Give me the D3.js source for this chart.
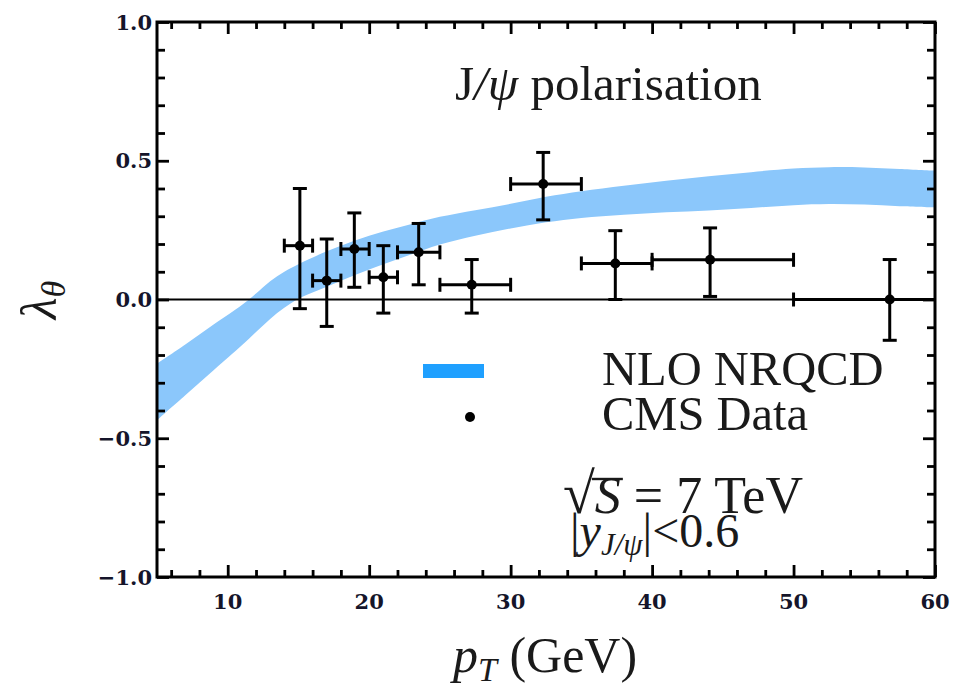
<!DOCTYPE html>
<html lang="en">
<head>
<meta charset="UTF-8">
<title>J/psi polarisation</title>
<style>
  body { margin: 0; background: #fff; }
  svg { display: block; }
  .tick-label { font-family: "DejaVu Serif", serif; font-weight: bold; font-size: 21px; fill: #15152a; }
  .serif { font-family: "Liberation Serif", "Times New Roman", serif; fill: #1a1a1a; }
</style>
</head>
<body>
<svg id="chart" width="954" height="687"></svg>
<script src="https://d3js.org/d3.v7.min.js"></script>
<script>
// CMS data points (|y| < 0.6)
const ptMean = [15.1, 17.0, 18.95, 21.0, 23.5, 27.25, 32.3, 37.4, 44.1, 56.8];
const ptLow = [14, 16, 18, 20, 22, 25, 30, 35, 40, 50];
const ptHigh = [16, 18, 20, 22, 25, 30, 35, 40, 50, 70];
const lambda = [0.194, 0.068, 0.182, 0.080, 0.170, 0.053, 0.416, 0.130, 0.143, 0.000];
const lambdaLow = [-0.033, -0.097, 0.044, -0.049, 0.053, -0.049, 0.287, 0.000, 0.011, -0.147];
const lambdaHigh = [0.400, 0.218, 0.312, 0.194, 0.274, 0.144, 0.530, 0.248, 0.258, 0.144];

// NLO NRQCD band edges
const bandPt = [5, 7, 9, 11, 12, 13, 14, 15, 17, 19, 21, 23, 25, 27.5, 30, 32.5, 35, 38, 41, 44, 47, 50, 52.5, 55, 57.5, 60];
const bandHigh = [-0.231, -0.162, -0.09, -0.02, 0.022, 0.066, 0.1, 0.127, 0.174, 0.213, 0.245, 0.272, 0.298, 0.322, 0.345, 0.37, 0.39, 0.41, 0.428, 0.444, 0.459, 0.472, 0.477, 0.476, 0.47, 0.464];
const bandLow = [-0.435, -0.345, -0.255, -0.165, -0.117, -0.07, -0.03, 0.003, 0.046, 0.088, 0.127, 0.163, 0.198, 0.23, 0.256, 0.278, 0.294, 0.305, 0.314, 0.321, 0.33, 0.34, 0.344, 0.342, 0.336, 0.332];

// axis ticks
const xMajor = [10, 20, 30, 40, 50, 60];
const xMinor = [6, 8, 12, 14, 16, 18, 22, 24, 26, 28, 32, 34, 36, 38, 42, 44, 46, 48, 52, 54, 56, 58];
const yMajor = [-1, -0.5, 0, 0.5, 1];
const yMajorLabels = ["\u22121.0", "\u22120.5", "0.0", "0.5", "1.0"];
const yMinor = [-0.9, -0.8, -0.7, -0.6, -0.4, -0.3, -0.2, -0.1, 0.1, 0.2, 0.3, 0.4, 0.6, 0.7, 0.8, 0.9];

const svg = d3.select('#chart');
const plotLeft = 157, plotRight = 935, plotTop = 22, plotBottom = 577;

const x = d3.scaleLinear().domain([5, 60]).range([plotLeft, plotRight]);
const y = d3.scaleLinear().domain([-1, 1]).range([plotBottom, plotTop]);

svg.append('rect').attr('width', 954).attr('height', 687).attr('fill', '#fff');

svg.append('clipPath').attr('id', 'plot-clip')
    .append('rect')
    .attr('x', plotLeft).attr('y', plotTop)
    .attr('width', plotRight - plotLeft).attr('height', plotBottom - plotTop);

const plot = svg.append('g').attr('clip-path', 'url(#plot-clip)');

// theory band
const bandData = bandPt.map((p, i) => ({ p, lo: bandLow[i], hi: bandHigh[i] }));
const area = d3.area()
    .x(d => x(d.p))
    .y0(d => y(d.lo))
    .y1(d => y(d.hi))
    .curve(d3.curveCatmullRom.alpha(0.5));

plot.append('path')
    .datum(bandData)
    .attr('d', area)
    .attr('fill', '#8bc7fb');

// zero line
plot.append('line')
    .attr('x1', plotLeft).attr('x2', plotRight)
    .attr('y1', y(0)).attr('y2', y(0))
    .attr('stroke', '#000')
    .attr('stroke-width', 2.2);

// data with error bars
const points = ptMean.map((p, i) => ({
    p, xlo: ptLow[i], xhi: ptHigh[i],
    v: lambda[i], lo: lambdaLow[i], hi: lambdaHigh[i]
}));

const cap = 7;
const bars = plot.append('g')
    .attr('stroke', '#000')
    .attr('stroke-width', 3)
    .selectAll('g')
    .data(points)
    .enter().append('g');

bars.append('line')
    .attr('x1', d => x(d.p)).attr('x2', d => x(d.p))
    .attr('y1', d => y(d.lo)).attr('y2', d => y(d.hi));
bars.append('line')
    .attr('x1', d => x(d.p) - cap).attr('x2', d => x(d.p) + cap)
    .attr('y1', d => y(d.lo)).attr('y2', d => y(d.lo));
bars.append('line')
    .attr('x1', d => x(d.p) - cap).attr('x2', d => x(d.p) + cap)
    .attr('y1', d => y(d.hi)).attr('y2', d => y(d.hi));
bars.append('line')
    .attr('x1', d => x(d.xlo)).attr('x2', d => x(d.xhi))
    .attr('y1', d => y(d.v)).attr('y2', d => y(d.v));
bars.append('line')
    .attr('x1', d => x(d.xlo)).attr('x2', d => x(d.xlo))
    .attr('y1', d => y(d.v) - cap).attr('y2', d => y(d.v) + cap);
bars.append('line')
    .attr('x1', d => x(d.xhi)).attr('x2', d => x(d.xhi))
    .attr('y1', d => y(d.v) - cap).attr('y2', d => y(d.v) + cap);
bars.append('circle')
    .attr('cx', d => x(d.p)).attr('cy', d => y(d.v))
    .attr('r', 5)
    .attr('fill', '#000')
    .attr('stroke', 'none');

// frame and ticks on all four sides (pointing inwards)
function tickAxis(axisFn, scale, values, size, transform) {
    const g = svg.append('g')
        .attr('transform', transform)
        .call(axisFn(scale).tickValues(values).tickSize(-size).tickFormat(''));
    g.select('.domain').remove();
    g.selectAll('line').attr('stroke', '#000').attr('stroke-width', 2.8);
}
tickAxis(d3.axisBottom, x, xMajor, 12, `translate(0,${plotBottom})`);
tickAxis(d3.axisBottom, x, xMinor, 7, `translate(0,${plotBottom})`);
tickAxis(d3.axisTop, x, xMajor, 12, `translate(0,${plotTop})`);
tickAxis(d3.axisTop, x, xMinor, 7, `translate(0,${plotTop})`);
tickAxis(d3.axisLeft, y, yMajor, 12, `translate(${plotLeft},0)`);
tickAxis(d3.axisLeft, y, yMinor, 8, `translate(${plotLeft},0)`);
tickAxis(d3.axisRight, y, yMajor, 12, `translate(${plotRight},0)`);
tickAxis(d3.axisRight, y, yMinor, 8, `translate(${plotRight},0)`);

svg.append('rect')
    .attr('x', plotLeft).attr('y', plotTop)
    .attr('width', plotRight - plotLeft).attr('height', plotBottom - plotTop)
    .attr('fill', 'none')
    .attr('stroke', '#000')
    .attr('stroke-width', 3);

// tick labels
svg.append('g').selectAll('text')
    .data(xMajor)
    .enter().append('text')
    .attr('class', 'tick-label')
    .attr('x', d => x(d))
    .attr('y', 609)
    .attr('text-anchor', 'middle')
    .text(d => d);

svg.append('g').selectAll('text')
    .data(yMajor)
    .enter().append('text')
    .attr('class', 'tick-label')
    .attr('x', 152)
    .attr('y', d => y(d))
    .attr('dy', '0.36em')
    .attr('text-anchor', 'end')
    .text((d, i) => yMajorLabels[i]);

// axis titles
const xt = svg.append('text').attr('class', 'serif')
    .attr('x', 453).attr('y', 672)
    .attr('font-size', 50);
xt.append('tspan').attr('font-style', 'italic').text('p');
xt.append('tspan').attr('font-style', 'italic').attr('font-size', 34).attr('dy', 9).text('T');
xt.append('tspan').attr('dy', -9).text(' (GeV)');

const yt = svg.append('text').attr('class', 'serif')
    .attr('transform', 'translate(56,300) rotate(-90)')
    .attr('text-anchor', 'middle')
    .attr('font-size', 50);
yt.append('tspan').attr('font-style', 'italic').text('\u03bb');
yt.append('tspan').attr('font-style', 'italic').attr('font-size', 34).attr('dy', 9).text('\u03b8');

// title inside plot
const title = svg.append('text').attr('class', 'serif')
    .attr('x', 455).attr('y', 100)
    .attr('font-size', 49);
title.append('tspan').text('J');
title.append('tspan').attr('font-style', 'italic').text('/\u03c8');
title.append('tspan').text(' polarisation');

// legend
svg.append('rect')
    .attr('x', 423).attr('y', 364)
    .attr('width', 61).attr('height', 14)
    .attr('fill', '#1fa0ff');
svg.append('circle')
    .attr('cx', 470).attr('cy', 417).attr('r', 5)
    .attr('fill', '#000');
svg.append('text').attr('class', 'serif')
    .attr('x', 602).attr('y', 385).attr('font-size', 48.5)
    .text('NLO NRQCD');
svg.append('text').attr('class', 'serif')
    .attr('x', 602).attr('y', 430).attr('font-size', 48.5)
    .text('CMS Data');

// energy and rapidity annotation
const en = svg.append('text').attr('class', 'serif')
    .attr('x', 563).attr('y', 513).attr('font-size', 52);
en.append('tspan').attr('font-size', 58).text('\u221a');
const sSpan = en.append('tspan').attr('font-style', 'italic').text('S');
en.append('tspan').text(' = 7 TeV');
const sBox = sSpan.node().getBBox();
svg.append('line')
    .attr('x1', sBox.x - 3).attr('x2', sBox.x + sBox.width + 2)
    .attr('y1', 479).attr('y2', 479)
    .attr('stroke', '#1a1a1a').attr('stroke-width', 2.4);

const rap = svg.append('text').attr('class', 'serif')
    .attr('x', 570).attr('y', 547).attr('font-size', 48);
rap.append('tspan').text('|');
rap.append('tspan').attr('font-style', 'italic').text('y');
rap.append('tspan').attr('font-style', 'italic').attr('font-size', 31).attr('dy', 8).text('J/\u03c8');
rap.append('tspan').attr('dy', -8).text('|<0.6');
</script>
</body>
</html>
